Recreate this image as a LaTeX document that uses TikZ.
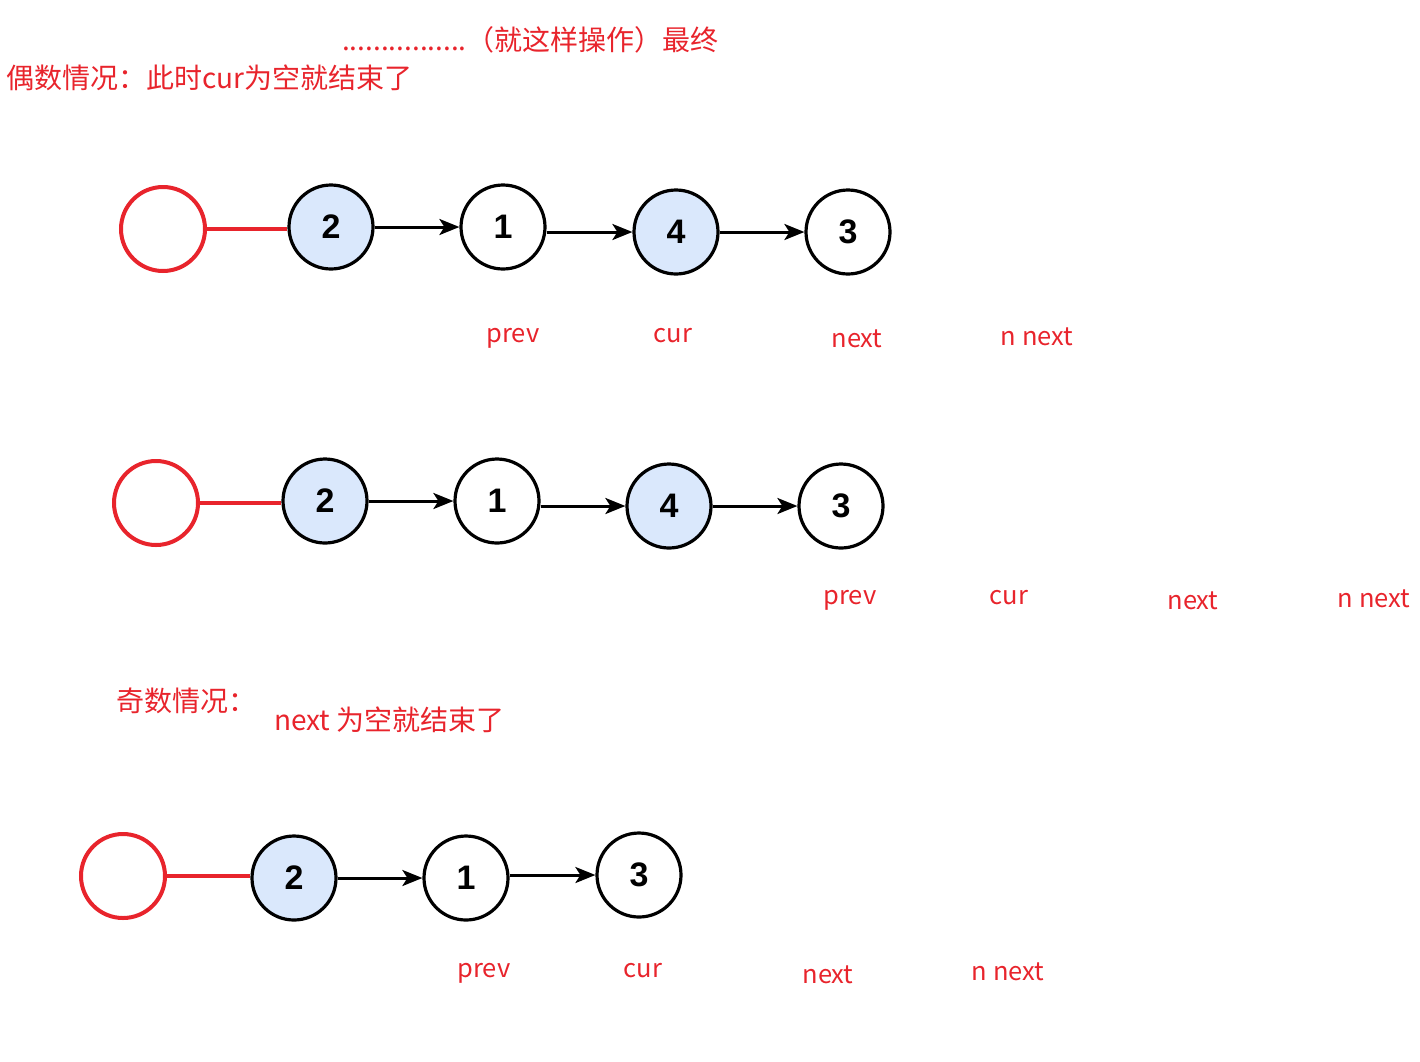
\documentclass[tikz,border=0pt]{standalone}
\usepackage{fontspec}
\newfontfamily\cjk{Noto Sans CJK SC}
\newfontfamily\numfont{Liberation Sans}
\usetikzlibrary{arrows.meta}
\definecolor{redc}{HTML}{E8242C}
\definecolor{bluefill}{HTML}{DAE8FC}
\tikzset{
  lnode/.style={circle,draw=black,line width=3.2pt,minimum size=84pt,inner sep=0pt,font=\numfont\bfseries\fontsize{34}{36}\selectfont},
  bnode/.style={lnode,fill=bluefill},
  wnode/.style={lnode,fill=white},
  rcirc/.style={circle,draw=redc,line width=4pt,minimum size=84pt,inner sep=0pt},
  rline/.style={draw=redc,line width=4pt},
  arr/.style={draw=black,line width=3pt,-{Stealth[length=20pt,width=16pt,inset=5pt]}},
  lbl/.style={text=redc,font=\cjk\fontsize{25.5}{28}\selectfont,inner sep=0pt},
  ttl/.style={text=redc,font=\cjk\fontsize{28}{32}\selectfont,inner sep=0pt,anchor=west}
}
\begin{document}
\begin{tikzpicture}[x=1pt,y=-1pt]
\useasboundingbox (0,0) rectangle (1420,1061);
% top texts
\node[ttl] (t1) at (342,40) {................（就这样操作）最终};
\node[ttl] (t2) at (6,78) {偶数情况：此时cur为空就结束了};
% row 1
\node[rcirc] (r1) at (163,229) {};
\node[bnode] (a2) at (331,227) {2};
\node[wnode] (a1) at (503,227) {1};
\node[bnode] (a4) at (676,232) {4};
\node[wnode] (a3) at (848,232) {3};
\draw[rline] (r1.east) -- (a2.west |- r1.east);
\draw[arr] (a2.east) -- (a1.west);
\draw[arr] (a1.east |- a4.west) -- (a4.west);
\draw[arr] (a4.east) -- (a3.west);
\node[lbl] (p1) at (513,338) {prev};
\node[lbl] (c1) at (673,336) {cur};
\node[lbl] (n1) at (857,339) {next};
\node[lbl] (nn1) at (1037,337) {n next};
% row 2
\node[rcirc] (r2) at (156,503) {};
\node[bnode] (b2) at (325,501) {2};
\node[wnode] (b1) at (497,501) {1};
\node[bnode] (b4) at (669,506) {4};
\node[wnode] (b3) at (841,506) {3};
\draw[rline] (r2.east) -- (b2.west |- r2.east);
\draw[arr] (b2.east) -- (b1.west);
\draw[arr] (b1.east |- b4.west) -- (b4.west);
\draw[arr] (b4.east) -- (b3.west);
\node[lbl] (p2) at (850,600) {prev};
\node[lbl] (c2) at (1009,598) {cur};
\node[lbl] (n2) at (1193,601) {next};
\node[lbl] (nn2) at (1374,599) {n next};
% odd case
\node[ttl] (t3) at (116,701) {奇数情况：};
\node[ttl] (t4) at (274,720) {next 为空就结束了};
% row 3
\node[rcirc] (r3) at (123,876) {};
\node[bnode] (d2) at (294,878) {2};
\node[wnode] (d1) at (466,878) {1};
\node[wnode] (d3) at (639,875) {3};
\draw[rline] (r3.east) -- (d2.west |- r3.east);
\draw[arr] (d2.east) -- (d1.west);
\draw[arr] (d1.east |- d3.west) -- (d3.west);
\node[lbl] (p3) at (484,973) {prev};
\node[lbl] (c3) at (643,971) {cur};
\node[lbl] (n3) at (828,975) {next};
\node[lbl] (nn3) at (1008,972) {n next};
\end{tikzpicture}
\end{document}
